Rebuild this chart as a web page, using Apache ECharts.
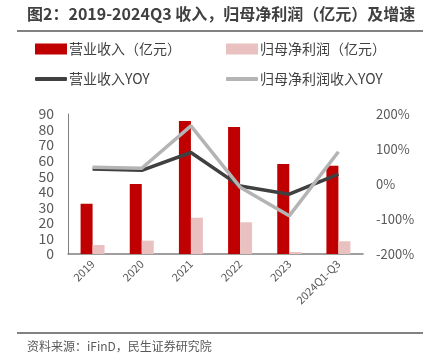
<!DOCTYPE html>
<html><head><meta charset="utf-8">
<script src="https://cdn.jsdelivr.net/npm/echarts@6/dist/echarts.min.js"></script>
<style>html,body{margin:0;padding:0;background:#fff}#c{width:431px;height:355px}</style>
</head><body><div id="c"></div>
<script>
const categories = ['2019','2020','2021','2022','2023','2024Q1-Q3'];
const revenue = [32.3, 45.0, 85.5, 81.6, 57.8, 56.8];
const netProfit = [5.8, 8.6, 23.3, 20.4, 1.3, 8.2];
const revenueYoy = [43, 39, 90, -6, -29, 28];
const profitYoy = [48, 45, 166, -9, -91, 92];
const leftTicks = [0, 90, 10];
const rightTicks = [-200, 200, 100];

const FONT = '"Microsoft YaHei","Noto Sans CJK SC",sans-serif';
const chart = echarts.init(document.getElementById('c'), null, {renderer:'canvas'});
const names = ['营业收入（亿元）','归母净利润（亿元）','营业收入YOY','归母净利润收入YOY'];
function lg(name, left, top, icon, h){
  return {data:[name], left:left, top:top, icon:icon, itemWidth:32, itemHeight:h, itemGap:0,
    textStyle:{fontFamily:FONT,fontSize:14,color:'#404040',padding:[0,0,0,-3]}, selectedMode:false, padding:0};
}
chart.setOption({
  animation:false,
  textStyle:{fontFamily:FONT},
  graphic:[
    {type:'text', left:27, top:6, style:{text:'图2：2019-2024Q3 收入，归母净利润（亿元）及增速', font:'bold 16px '+FONT, fill:'#404040'}},
    {type:'line', shape:{x1:17,y1:31,x2:423,y2:31}, style:{stroke:'#595959',lineWidth:1.5}},
    {type:'line', shape:{x1:17,y1:333,x2:423,y2:333}, style:{stroke:'#595959',lineWidth:1.5}},
    {type:'text', left:27, top:340, style:{text:'资料来源：iFinD，民生证券研究院', font:'12px '+FONT, fill:'#595959'}}
  ],
  legend:[
    lg(names[0], 35, 42, 'rect', 11),
    lg(names[1], 226, 42, 'rect', 11),
    lg(names[2], 35, 72, 'roundRect', 4),
    lg(names[3], 226, 72, 'roundRect', 4)
  ],
  grid:{left:68, right:68, top:114, bottom:101},
  xAxis:{type:'category', data:categories,
    axisLine:{lineStyle:{color:'#808080',width:1.5}}, axisTick:{show:false},
    axisLabel:{rotate:45, fontSize:11, color:'#595959', fontFamily:FONT, margin:8, interval:0}},
  yAxis:[
    {type:'value', min:leftTicks[0], max:leftTicks[1], interval:leftTicks[2], splitLine:{show:false},
     axisLine:{show:true, lineStyle:{color:'#808080',width:1}}, axisTick:{show:false},
     axisLabel:{fontSize:14, color:'#595959', margin:14, fontFamily:FONT}},
    {type:'value', min:rightTicks[0], max:rightTicks[1], interval:rightTicks[2], splitLine:{show:false},
     axisLine:{show:false}, axisTick:{show:false},
     axisLabel:{fontSize:13, color:'#595959', margin:13, fontFamily:FONT, formatter:'{value}%'}}
  ],
  series:[
    {name:names[0], type:'bar', data:revenue, barWidth:12, barGap:'0%', itemStyle:{color:'#c00000'}},
    {name:names[1], type:'bar', data:netProfit, barWidth:12, itemStyle:{color:'#eac1c1'}},
    {name:names[2], type:'line', yAxisIndex:1, data:revenueYoy, symbol:'none', lineStyle:{color:'#404040',width:3.5}, itemStyle:{color:'#404040'}},
    {name:names[3], type:'line', yAxisIndex:1, data:profitYoy, symbol:'none', lineStyle:{color:'#b4b4b4',width:3.5}, itemStyle:{color:'#b4b4b4'}}
  ]
});
</script></body></html>
